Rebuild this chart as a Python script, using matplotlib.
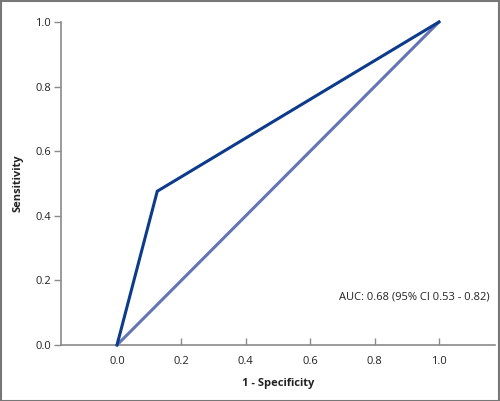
import matplotlib
matplotlib.use("Agg")
import matplotlib.pyplot as plt
from matplotlib.patches import Rectangle

fpr = [0.0, 0.125, 1.0]
tpr = [0.0, 0.476, 1.0]
diag_x = [0.0, 1.0]
diag_y = [0.0, 1.0]
ticks = [0.0, 0.2, 0.4, 0.6, 0.8, 1.0]
tick_labels = ["0.0", "0.2", "0.4", "0.6", "0.8", "1.0"]
auc_text = "AUC: 0.68 (95% CI 0.53 - 0.82)"

plt.rcParams['font.family'] = ['Open Sans', 'DejaVu Sans']

fig = plt.figure(figsize=(5.0, 4.01), dpi=100)
ax = fig.add_axes([0.122, 0.1397, 0.868, 0.8055])

ax.plot(diag_x, diag_y, color="#6474b4", lw=2.2, clip_on=False, solid_capstyle='round', zorder=2)
ax.plot(fpr, tpr, color="#0d3b8c", lw=2.2, clip_on=False, solid_joinstyle='miter', zorder=3)

ax.set_xlim(-0.174, 1.174)
ax.set_ylim(0, 1.0)
ax.set_xticks(ticks)
ax.set_xticklabels(tick_labels)
ax.set_yticks(ticks)
ax.set_yticklabels(tick_labels)

for s in ['top', 'right']:
    ax.spines[s].set_visible(False)
for s in ['left', 'bottom']:
    ax.spines[s].set_color("#8a8a8a")
    ax.spines[s].set_linewidth(1.2)

ax.tick_params(axis='x', direction='in', length=5, color="#8a8a8a", width=1, pad=8, labelsize=8, labelcolor="#222222")
ax.tick_params(axis='y', direction='out', length=5, color="#8a8a8a", width=1, pad=2, labelsize=8, labelcolor="#222222")

ax.set_xlabel("1 - Specificity", fontsize=8, fontweight='bold', labelpad=8, color="#222222")
ax.set_ylabel("Sensitivity", fontsize=8, fontweight='bold', labelpad=9, color="#222222")

ax.text(1.158, 0.149, auc_text, ha='right', va='center', fontsize=8, color="#222222")

fig.patches.append(Rectangle((0.001, 0.001), 0.997, 0.997, transform=fig.transFigure,
                             fill=False, edgecolor="#777777", lw=1.5))

fig.savefig("out.png", dpi=100)
